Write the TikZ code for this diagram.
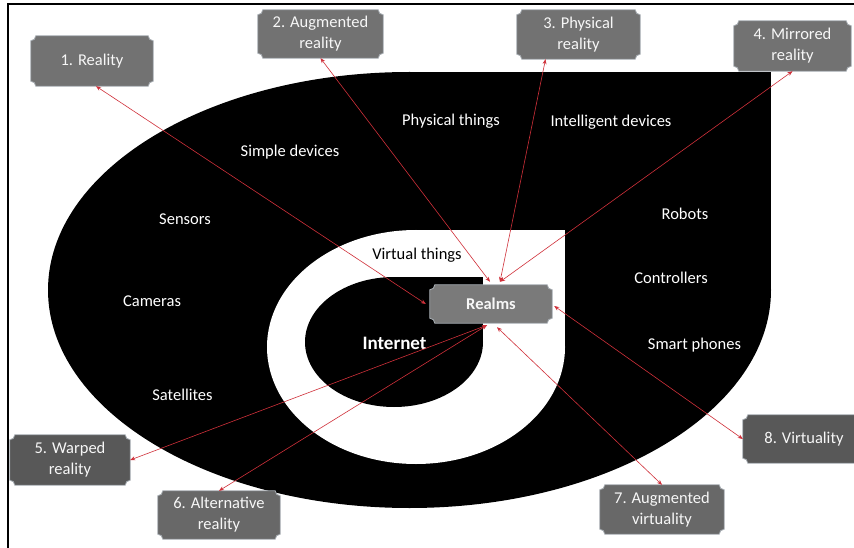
\documentclass[tikz,border=0pt]{standalone}
\usepackage{fontspec}
\setmainfont{Carlito}
\usetikzlibrary{calc,arrows.meta}
\pgfdeclarelayer{bg}
\pgfdeclarelayer{plq}
\pgfsetlayers{bg,plq,main}
\definecolor{plqborder}{HTML}{A7ADB3}
\definecolor{graya}{HTML}{727272}
\definecolor{grayb}{HTML}{585858}
\definecolor{grayc}{HTML}{686868}
\definecolor{grayd}{HTML}{7A7A7A}
\definecolor{linkred}{HTML}{D0303A}
\newcommand\plaquebox[2]{%
  \begin{pgfonlayer}{plq}
  \filldraw[fill=#2, draw=plqborder, line width=0.8pt]
    ($(#1.north west)+(5pt,0pt)$) -- ($(#1.north east)+(-5pt,0pt)$)
    arc[start angle=180,end angle=270,radius=5pt]
    -- ($(#1.south east)+(0pt,5pt)$)
    arc[start angle=90,end angle=180,radius=5pt]
    -- ($(#1.south west)+(5pt,0pt)$)
    arc[start angle=0,end angle=90,radius=5pt]
    -- ($(#1.north west)+(0pt,-5pt)$)
    arc[start angle=270,end angle=360,radius=5pt] -- cycle;
  \end{pgfonlayer}}
\tikzset{
  box/.style={inner sep=0pt, align=center, text=white!94!gray,
    font=\fontsize{16.5}{21}\selectfont},
  lbl/.style={inner sep=0pt, text=white, font=\fontsize{16.5}{20}\selectfont},
  link/.style={draw=linkred, line width=0.6pt,
    {Stealth[length=5pt,width=4pt]}-{Stealth[length=5pt,width=4pt]}},
}
\begin{document}
\begin{tikzpicture}[x=1pt,y=-1pt]
\useasboundingbox (0,0) rectangle (854,548);
% teardrop shapes
\begin{pgfonlayer}{bg}
\fill[white] (0,0) rectangle (854,548);
\draw[line width=1.6pt] (8,548) -- (8,4) -- (856,4);
\fill[black] (409.5,290) ellipse (361.5 and 218);
\fill[black] (409.5,290) rectangle (771,72);
\fill[white] (416,347) ellipse (149 and 117);
\fill[white] (416,347) rectangle (565,230);
\fill[black] (394,342) ellipse (89 and 65);
\fill[black] (394,342) rectangle (483,277);
\end{pgfonlayer}
% labels
\node[lbl] (simple) at (290,152) {Simple devices};
\node[lbl] (phys) at (451,121) {Physical things};
\node[lbl] (intel) at (611,122) {Intelligent devices};
\node[lbl] (sens) at (185,219) {Sensors};
\node[lbl] (robots) at (685,214) {Robots};
\node[lbl, text=black] (virt) at (417,255) {Virtual things};
\node[lbl] (ctrl) at (671,278) {Controllers};
\node[lbl] (cams) at (152,301) {Cameras};
\node[lbl, font=\fontsize{19}{22}\selectfont\bfseries] (inet) at (394.5,343) {Internet};
\node[lbl] (smart) at (694.5,345) {Smart phones};
\node[lbl] (sat) at (182.5,395) {Satellites};
% boxes
\node[box, minimum width=122pt, minimum height=50pt] (b1) at (92,61) {1. Reality};
\node[box, minimum width=125pt, minimum height=48pt] (b2) at (320.5,34) {2. Augmented\\reality};
\node[box, minimum width=123pt, minimum height=49pt] (b3) at (578.5,34.5) {3. Physical\\reality};
\node[box, minimum width=117pt, minimum height=50pt] (b4) at (792.5,46) {4. Mirrored\\reality};
\node[box, minimum width=120pt, minimum height=50pt] (b5) at (70,460) {5. Warped\\reality};
\node[box, minimum width=122pt, minimum height=48pt] (b6) at (219,515) {6. Alternative\\reality};
\node[box, minimum width=124pt, minimum height=49pt] (b7) at (662,509.5) {7. Augmented\\virtuality};
\node[box, minimum width=122pt, minimum height=48pt] (b8) at (804,439) {8. Virtuality};
\node[box, minimum width=122pt, minimum height=38pt, font=\fontsize{16.5}{20}\selectfont\bfseries] (realms) at (491,304) {Realms};
\plaquebox{b1}{graya}
\plaquebox{b2}{graya}
\plaquebox{b3}{graya}
\plaquebox{b4}{graya}
\plaquebox{b5}{grayb}
\plaquebox{b6}{grayc}
\plaquebox{b7}{grayc}
\plaquebox{b8}{grayb}
\plaquebox{realms}{grayd}
% connectors
\draw[link] ($(b1.south)+(4pt,0pt)$) -- ($(realms.west)+(-4pt,0pt)$);
\draw[link] (b2.south) -- ($(realms.north)+(-1pt,3pt)$);
\draw[link] ($(b3.south)+(-33pt,0pt)$) -- ($(realms.north)+(9pt,3pt)$);
\draw[link] (b4.south) -- ($(realms.north)+(9pt,3pt)$);
\draw[link] (b5.east) -- ($(realms.south)+(-4pt,-2pt)$);
\draw[link] (b6.north) -- ($(realms.south)+(-4pt,-2pt)$);
\draw[link] (b7.north) -- ($(realms.south)+(6pt,-4pt)$);
\draw[link] (b8.west) -- ($(realms.east)+(2pt,-2pt)$);
\end{tikzpicture}
\end{document}
